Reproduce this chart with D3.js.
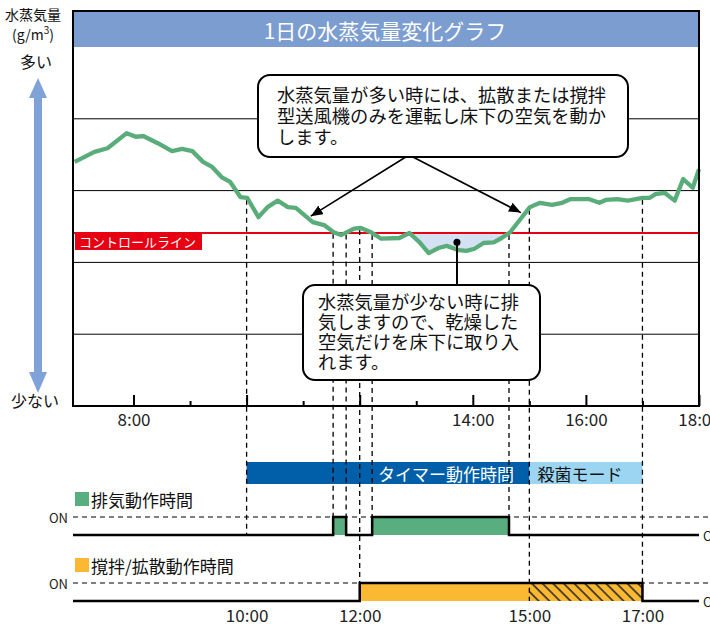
<!DOCTYPE html>
<html>
<head>
<meta charset="utf-8">
<script src="https://cdn.jsdelivr.net/npm/d3@7"></script>
<style>
  body { margin: 0; background: #fff; }
  svg { display: block; font-family: "Noto Sans CJK JP", "Noto Sans", sans-serif; }
</style>
</head>
<body>
<svg id="chart" width="710" height="635"></svg>
<script>
// time of day (hours) and water vapour level (arbitrary units, grid = 1)
const hours = [6.96, 7.31, 7.54, 7.88, 8.04, 8.17, 8.43, 8.68, 8.86, 9.04,
  9.23, 9.39, 9.57, 9.71, 9.89, 10.01, 10.21, 10.37, 10.55, 10.73,
  10.87, 11.17, 11.37, 11.54, 11.67, 11.90, 12.02, 12.20, 12.38, 12.70,
  12.88, 13.06, 13.22, 13.39, 13.54, 13.75, 13.89, 14.03, 14.19, 14.37,
  14.51, 14.66, 14.83, 15.01, 15.19, 15.40, 15.58, 15.72, 16.06, 16.24,
  16.35, 16.56, 16.74, 17.00, 17.13, 17.23, 17.39, 17.57, 17.72, 17.89, 18.00];
const vapor = [3.40, 3.54, 3.59, 3.80, 3.75, 3.76, 3.66, 3.55, 3.58, 3.55,
  3.40, 3.33, 3.18, 3.12, 2.91, 2.90, 2.63, 2.77, 2.86, 2.77,
  2.76, 2.56, 2.52, 2.42, 2.38, 2.47, 2.48, 2.42, 2.33, 2.34,
  2.41, 2.28, 2.13, 2.20, 2.23, 2.17, 2.16, 2.19, 2.27, 2.28,
  2.34, 2.42, 2.59, 2.77, 2.83, 2.80, 2.83, 2.88, 2.88, 2.83,
  2.87, 2.88, 2.86, 2.90, 2.90, 2.95, 2.97, 2.86, 3.16, 3.04, 3.30];

const controlLevel = 2.41;
const gridLevels = [1, 2, 3, 4];
const dipRange = [12.88, 14.66];

const majorTicks = [8, 10, 12, 14, 16, 18];
const minorTicks = [9, 11, 13, 15, 17];
const topTickLabels = [8, 14, 16, 18];
const bottomTickLabels = [10, 12, 15, 17];

const timerPeriod = [10, 15];
const sterilizePeriod = [15, 17];
const exhaustOn = [[11.53, 11.76], [12.22, 14.64]];
const stirOn = [[12, 17]];
const marks = [10, 11.53, 11.76, 12, 12.22, 14.64, 15, 17];

const title = "1日の水蒸気量変化グラフ";
const noteHigh = ["水蒸気量が多い時には、拡散または撹拌", "型送風機のみを運転し床下の空気を動か", "します。"];
const noteLow = ["水蒸気量が少ない時に排", "気しますので、乾燥した", "空気だけを床下に取り入", "れます。"];

const svg = d3.select("#chart");
const frame = { left: 73, right: 699, top: 11, bottom: 406, plotTop: 47 };
const rows = {
  exhaust: { on: 517, off: 535 },
  stir: { on: 583, off: 601 }
};

const x = d3.scaleLinear().domain([6.93, 18]).range([frame.left, frame.right]);
const y = d3.scaleLinear().domain([0, 5]).range([frame.bottom, frame.plotTop]);

const points = hours.map((h, i) => ({ h, v: vapor[i] }));
const bis = d3.bisector((d) => d.h).left;
const valueAt = (t) => {
  const i = Math.max(1, Math.min(points.length - 1, bis(points, t)));
  const a = points[i - 1], b = points[i];
  return a.v + ((b.v - a.v) * (t - a.h)) / (b.h - a.h);
};

const defs = svg.append("defs");
defs.append("marker")
  .attr("id", "head")
  .attr("viewBox", "0 0 12 10")
  .attr("refX", 12).attr("refY", 5)
  .attr("markerWidth", 12).attr("markerHeight", 10)
  .attr("markerUnits", "userSpaceOnUse")
  .attr("orient", "auto")
  .append("path").attr("d", "M0,0 L12,5 L0,10 z").attr("fill", "#000");
const hatch = defs.append("pattern")
  .attr("id", "hatch")
  .attr("patternUnits", "userSpaceOnUse")
  .attr("width", 7.5).attr("height", 7.5)
  .attr("patternTransform", "rotate(-45)");
hatch.append("rect").attr("width", 7.5).attr("height", 7.5).attr("fill", "#fbb933");
hatch.append("line").attr("x1", 1).attr("y1", 0).attr("x2", 1).attr("y2", 7.5)
  .attr("stroke", "#222").attr("stroke-width", 1.5);

// title bar
svg.append("rect")
  .attr("x", frame.left).attr("y", frame.top)
  .attr("width", frame.right - frame.left).attr("height", frame.plotTop - frame.top)
  .attr("fill", "#7b9dd0");
svg.append("text")
  .attr("x", (frame.left + frame.right) / 2 - 1).attr("y", 30)
  .attr("text-anchor", "middle").attr("dominant-baseline", "central")
  .attr("fill", "#fff").attr("font-size", 21)
  .text(title);

// grid lines
svg.selectAll(".grid")
  .data(gridLevels)
  .join("line")
  .attr("class", "grid")
  .attr("x1", frame.left).attr("x2", frame.right)
  .attr("y1", (d) => y(d)).attr("y2", (d) => y(d))
  .attr("stroke", "#000").attr("stroke-width", 1);

// shaded dip below the control line
const dip = points.filter((d) => d.h >= dipRange[0] && d.h <= dipRange[1]);
svg.append("path")
  .datum(dip)
  .attr("d", d3.area()
    .x((d) => x(d.h))
    .y0(y(controlLevel))
    .y1((d) => y(Math.min(d.v, controlLevel))))
  .attr("fill", "#d3e1f2");

// control line
svg.append("line")
  .attr("x1", frame.left).attr("x2", frame.right)
  .attr("y1", y(controlLevel)).attr("y2", y(controlLevel))
  .attr("stroke", "#e60012").attr("stroke-width", 2);
svg.append("rect")
  .attr("x", frame.left + 2).attr("y", y(controlLevel))
  .attr("width", 127).attr("height", 17)
  .attr("fill", "#e60012");
svg.append("text")
  .attr("x", frame.left + 6).attr("y", y(controlLevel) + 9)
  .attr("dominant-baseline", "central")
  .attr("fill", "#fff").attr("font-size", 13)
  .text("コントロールライン");

// timer bar
svg.append("rect")
  .attr("x", x(timerPeriod[0])).attr("y", 462)
  .attr("width", x(timerPeriod[1]) - x(timerPeriod[0])).attr("height", 22)
  .attr("fill", "#005fa8");
svg.append("rect")
  .attr("x", x(sterilizePeriod[0])).attr("y", 462)
  .attr("width", x(sterilizePeriod[1]) - x(sterilizePeriod[0])).attr("height", 22)
  .attr("fill", "#9bd5f2");
svg.append("text").attr("x", 446).attr("y", 473).attr("text-anchor", "middle")
  .attr("dominant-baseline", "central").attr("font-size", 17).attr("fill", "#fff").text("タイマー動作時間");
svg.append("text").attr("x", 580).attr("y", 473).attr("text-anchor", "middle")
  .attr("dominant-baseline", "central").attr("font-size", 17).attr("fill", "#111").text("殺菌モード");

// on/off rows: labels and fills
const drawRowFill = (row, periods, color, label, labelY) => {
  svg.append("rect").attr("x", 75).attr("y", labelY - 7).attr("width", 14).attr("height", 14).attr("fill", color);
  svg.append("text").attr("x", 91).attr("y", labelY).attr("dominant-baseline", "central")
    .attr("font-size", 17).attr("fill", "#111").text(label);
  svg.append("text").attr("x", 68).attr("y", row.on).attr("text-anchor", "end")
    .attr("dominant-baseline", "central").attr("font-size", 13).attr("fill", "#222").text("ON");
  svg.append("text").attr("x", 703).attr("y", row.off).attr("dominant-baseline", "central")
    .attr("font-size", 13).attr("fill", "#222").text("OFF");
  svg.append("line").attr("x1", frame.left).attr("x2", 710).attr("y1", row.on).attr("y2", row.on)
    .attr("stroke", "#000").attr("stroke-width", 1).attr("stroke-dasharray", "5,4");
  svg.selectAll(null).data(periods).join("rect")
    .attr("x", (d) => x(d[0])).attr("y", row.on)
    .attr("width", (d) => x(d[1]) - x(d[0])).attr("height", row.off - row.on)
    .attr("fill", color);
};
const drawRowStep = (row, periods) => {
  const steps = [[frame.left, row.off]];
  periods.forEach(([a, b]) => {
    steps.push([x(a), row.off], [x(a), row.on], [x(b), row.on], [x(b), row.off]);
  });
  steps.push([frame.right, row.off]);
  svg.append("path").attr("d", d3.line()(steps))
    .attr("fill", "none").attr("stroke", "#000").attr("stroke-width", 2.5);
};

drawRowFill(rows.exhaust, exhaustOn, "#58ae7e", "排気動作時間", 499);
drawRowFill(rows.stir, stirOn, "#fbb933", "撹拌/拡散動作時間", 565);
svg.append("rect")
  .attr("x", x(sterilizePeriod[0])).attr("y", rows.stir.on)
  .attr("width", x(sterilizePeriod[1]) - x(sterilizePeriod[0])).attr("height", rows.stir.off - rows.stir.on)
  .attr("fill", "url(#hatch)");

// dashed time markers
const exhaustEdges = exhaustOn.flat();
svg.selectAll(".mark")
  .data(marks)
  .join("line")
  .attr("class", "mark")
  .attr("x1", (d) => x(d)).attr("x2", (d) => x(d))
  .attr("y1", (d) => y(valueAt(d)) + 2)
  .attr("y2", (d) => exhaustEdges.includes(d) ? rows.exhaust.on : d === timerPeriod[0] ? rows.exhaust.off : rows.stir.off)
  .attr("stroke", "#000").attr("stroke-width", 1.3)
  .attr("stroke-dasharray", "5,4");

drawRowStep(rows.exhaust, exhaustOn);
drawRowStep(rows.stir, stirOn);

// vapour line
svg.append("path")
  .datum(points)
  .attr("d", d3.line().x((d) => x(d.h)).y((d) => y(d.v)))
  .attr("fill", "none")
  .attr("stroke", "#5aad7b").attr("stroke-width", 4.3)
  .attr("stroke-linejoin", "round");

// axis ticks
svg.append("g").attr("transform", `translate(0,${frame.bottom})`)
  .call(d3.axisBottom(x).tickValues(majorTicks).tickSize(-11).tickPadding(8)
    .tickFormat((d) => topTickLabels.includes(d) ? `${d}:00` : ""))
  .call((g) => g.select(".domain").remove())
  .call((g) => g.selectAll("line").attr("stroke-width", 2))
  .call((g) => g.selectAll("text").attr("font-size", 17).attr("fill", "#222")
    .attr("font-family", "\"Noto Sans CJK JP\", sans-serif"));
svg.append("g").attr("transform", `translate(0,${frame.bottom})`)
  .call(d3.axisBottom(x).tickValues(minorTicks).tickSize(-5).tickFormat(""))
  .call((g) => g.select(".domain").remove())
  .call((g) => g.selectAll("line").attr("stroke-width", 2));

// frame
svg.append("rect")
  .attr("x", frame.left).attr("y", frame.top)
  .attr("width", frame.right - frame.left).attr("height", frame.bottom - frame.top)
  .attr("fill", "none").attr("stroke", "#000").attr("stroke-width", 2);

// left arrow and labels
const ax = 38;
svg.append("path")
  .attr("d", `M${ax},78 L${ax + 9},98 L${ax + 4},98 L${ax + 4},372 L${ax + 9},372 L${ax},393 L${ax - 9},372 L${ax - 4},372 L${ax - 4},98 L${ax - 9},98 Z`)
  .attr("fill", "#7fa2d8");
svg.append("text").attr("x", 33).attr("y", 14).attr("text-anchor", "middle")
  .attr("dominant-baseline", "central").attr("font-size", 14).attr("fill", "#111").text("水蒸気量");
const unit = svg.append("text").attr("x", 33).attr("y", 34).attr("text-anchor", "middle")
  .attr("dominant-baseline", "central").attr("font-size", 14).attr("fill", "#111");
unit.append("tspan").text("(g/m");
unit.append("tspan").attr("font-size", 10).attr("dy", -5).text("3");
unit.append("tspan").attr("dy", 5).text(")");
svg.append("text").attr("x", 36).attr("y", 61).attr("text-anchor", "middle")
  .attr("dominant-baseline", "central").attr("font-size", 16).attr("fill", "#111").text("多い");
svg.append("text").attr("x", 35).attr("y", 400).attr("text-anchor", "middle")
  .attr("dominant-baseline", "central").attr("font-size", 16).attr("fill", "#111").text("少ない");

// callout: high vapour
const apex = { x: 409, y: 155 };
[11.17, 14.85].forEach((t) => {
  svg.append("line")
    .attr("x1", apex.x).attr("y1", apex.y)
    .attr("x2", x(t) + (t < 13 ? -2 : 0)).attr("y2", y(valueAt(t)) - 6)
    .attr("stroke", "#000").attr("stroke-width", 1.6)
    .attr("marker-end", "url(#head)");
});
svg.append("rect")
  .attr("x", 258).attr("y", 75).attr("width", 370).attr("height", 82)
  .attr("rx", 12).attr("fill", "#fff").attr("stroke", "#000").attr("stroke-width", 2);
noteHigh.forEach((line, i) => {
  svg.append("text")
    .attr("x", 277).attr("y", 102 + i * 21)
    .attr("font-size", 18.3).attr("fill", "#111")
    .text(line);
});

// callout: low vapour
const dotT = 13.72;
const dotY = y((controlLevel + valueAt(dotT)) / 2) + 1;
svg.append("line")
  .attr("x1", x(dotT)).attr("x2", x(dotT)).attr("y1", dotY).attr("y2", 285)
  .attr("stroke", "#000").attr("stroke-width", 2);
svg.append("circle").attr("cx", x(dotT)).attr("cy", dotY).attr("r", 3.5).attr("fill", "#000");
svg.append("rect")
  .attr("x", 303).attr("y", 285).attr("width", 237).attr("height", 95)
  .attr("rx", 12).attr("fill", "#fff").attr("stroke", "#000").attr("stroke-width", 2);
noteLow.forEach((line, i) => {
  svg.append("text")
    .attr("x", 318).attr("y", 309 + i * 20)
    .attr("font-size", 18.3).attr("fill", "#111")
    .text(line);
});

// bottom time labels
svg.append("g").attr("transform", `translate(0,${rows.stir.off})`)
  .call(d3.axisBottom(x).tickValues(bottomTickLabels).tickSize(0).tickPadding(9)
    .tickFormat((d) => `${d}:00`))
  .call((g) => g.select(".domain").remove())
  .call((g) => g.selectAll("text").attr("font-size", 17).attr("fill", "#222")
    .attr("font-family", "\"Noto Sans CJK JP\", sans-serif"));
</script>
</body>
</html>
